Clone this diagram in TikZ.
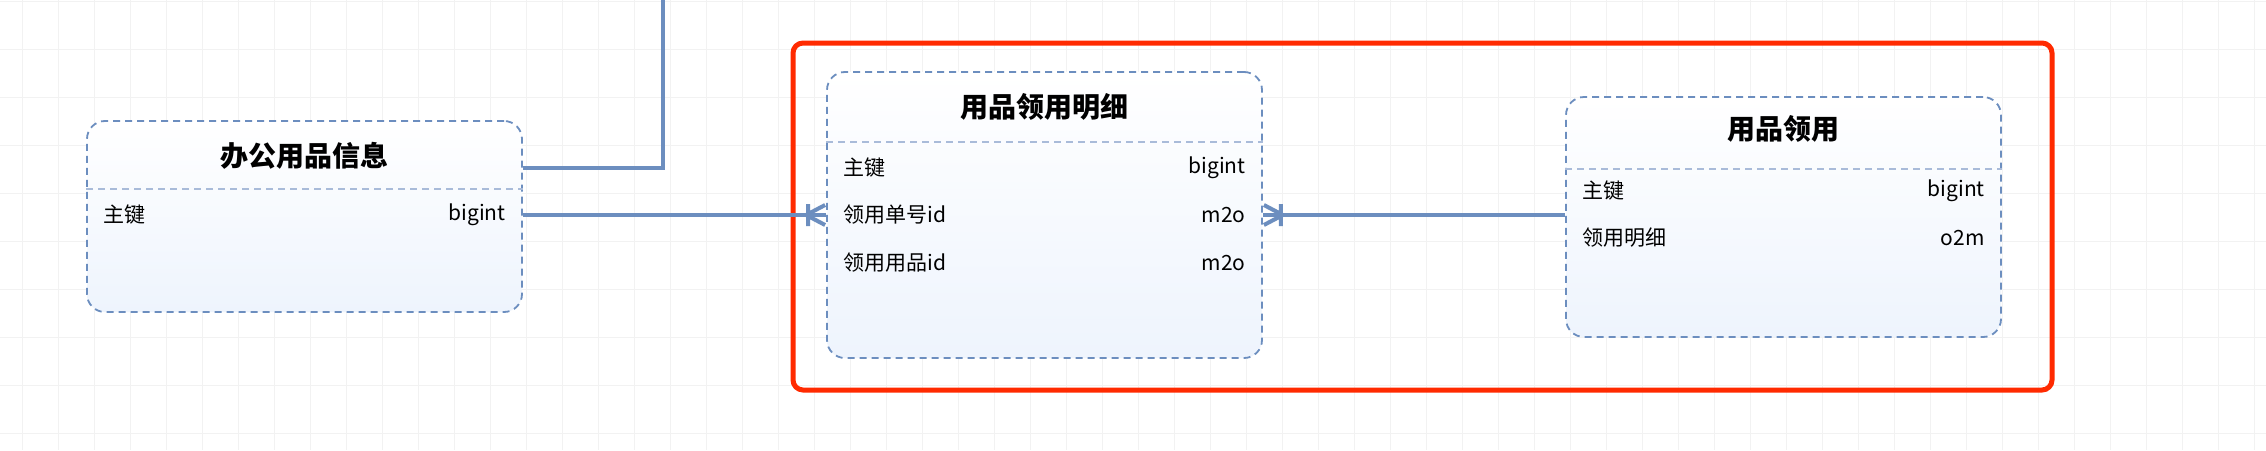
\documentclass[tikz,border=0pt]{standalone}
\usepackage{fontspec}
\setmainfont{Noto Sans CJK SC}
\usetikzlibrary{calc}
\definecolor{erblue}{HTML}{6C8EBF}
\definecolor{sepblue}{HTML}{A9BBD9}
\definecolor{boxfill}{HTML}{EEF4FD}
\definecolor{redframe}{HTML}{FF2A00}
\definecolor{gridgray}{HTML}{F2F2F2}
\begin{document}
\begin{tikzpicture}[x=1pt,y=-1pt,
  erbox/.style={draw=erblue,dash pattern=on 7pt off 5pt,line width=1.8pt,rounded corners=18pt,top color=white,bottom color=boxfill,minimum width=435pt,inner sep=0pt},
  ersep/.style={draw=sepblue,dash pattern=on 7pt off 5pt,line width=1.8pt},
  ertitle/.style={font=\fontsize{28}{30}\selectfont\bfseries},
  errow/.style={font=\fontsize{21}{23}\selectfont,inner sep=0pt},
  erlink/.style={draw=erblue,line width=4pt}]
\useasboundingbox (0,0) rectangle (2266,450);
\fill[white] (0,0) rectangle (2266,450);
\foreach \x in {22,58,...,2266} {\draw[gridgray,line width=1pt] (\x,0) -- (\x,450);}
\foreach \y in {1,49,...,450} {\draw[gridgray,line width=1pt] (0,\y) -- (2266,\y);}
\draw[redframe,line width=5pt,rounded corners=10pt] (793,43) rectangle (2052,390);
% entities
\node[erbox,minimum height=191pt] (info) at (304.5,216.5) {};
\node[erbox,minimum height=286pt] (detail) at (1044.5,215) {};
\node[erbox,minimum height=240pt] (apply) at (1783.5,217) {};
\draw[ersep] (info.west |- 0,189) -- (info.east |- 0,189);
\draw[ersep] (detail.west |- 0,142) -- (detail.east |- 0,142);
\draw[ersep] (apply.west |- 0,169) -- (apply.east |- 0,169);
\node[ertitle] (infoT) at (info.center |- 0,156) {办公用品信息};
\node[ertitle] (detailT) at (detail.center |- 0,107) {用品领用明细};
\node[ertitle] (applyT) at (apply.center |- 0,129) {用品领用};
% fields
\foreach \n/\y/\l/\r in {info/215/主键/bigint, detail/168/主键/bigint, detail/215/领用单号id/m2o,
  detail/263/领用用品id/m2o, apply/191/主键/bigint, apply/238/领用明细/o2m} {
  \node[errow,anchor=west] at ($(\n.west |- 0,\y)+(17,0)$) {\l};
  \node[errow,anchor=east] at ($(\n.east |- 0,\y)+(-17,0)$) {\r};
}
% relations
\coordinate (top) at (663,0);
\coordinate (infoUp) at (info.east |- 0,168);
\coordinate (infoKey) at (info.east |- 0,215);
\coordinate (detailL) at (detail.west |- 0,215);
\coordinate (detailR) at (detail.east |- 0,215);
\coordinate (applyKey) at (apply.west |- 0,215);
\draw[erlink] (top) |- (infoUp);
\draw[erlink] (infoKey) -- (detailL);
\draw[erlink] ($(detailL)+(-20,0)$) -- ($(detailL)+(-1,-10)$) ($(detailL)+(-20,0)$) -- ($(detailL)+(-1,10)$)
  ($(detailL)+(-18,-11)$) -- ($(detailL)+(-18,11)$);
\draw[erlink] (applyKey) -- (detailR);
\draw[erlink] ($(detailR)+(20,0)$) -- ($(detailR)+(1,-10)$) ($(detailR)+(20,0)$) -- ($(detailR)+(1,10)$)
  ($(detailR)+(18,-11)$) -- ($(detailR)+(18,11)$);
\end{tikzpicture}
\end{document}
